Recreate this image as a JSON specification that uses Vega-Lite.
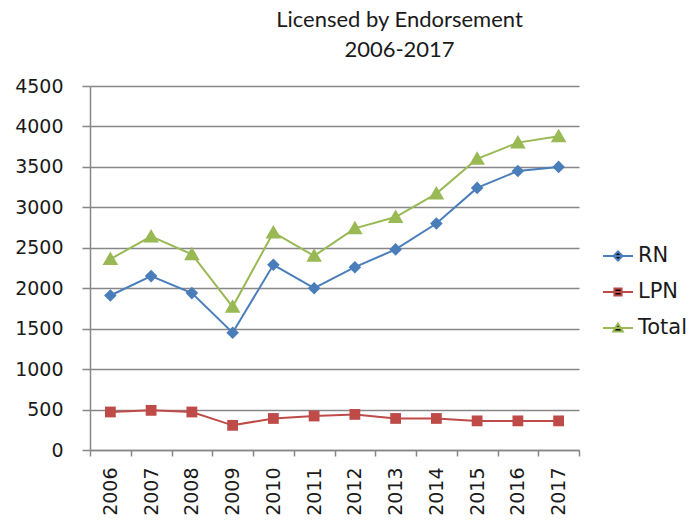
{
  "$schema": "https://vega.github.io/schema/vega-lite/v6.json",
  "autosize": {"type": "none"},
  "padding": {"left": 90, "top": 86, "right": 115, "bottom": 74},
  "width": 489,
  "height": 364,
  "background": "white",
  "title": {
    "text": ["Licensed by Endorsement", "2006-2017"],
    "font": "Lato",
    "fontSize": 22,
    "fontWeight": "normal",
    "color": "#1a1a1a",
    "lineHeight": 30,
    "anchor": "middle",
    "dx": 65,
    "offset": 15
  },
  "data": {
    "values": [
      {"year": "2006", "series": "RN", "value": 1910},
      {"year": "2007", "series": "RN", "value": 2150},
      {"year": "2008", "series": "RN", "value": 1940},
      {"year": "2009", "series": "RN", "value": 1450},
      {"year": "2010", "series": "RN", "value": 2290},
      {"year": "2011", "series": "RN", "value": 2000},
      {"year": "2012", "series": "RN", "value": 2260},
      {"year": "2013", "series": "RN", "value": 2480},
      {"year": "2014", "series": "RN", "value": 2800},
      {"year": "2015", "series": "RN", "value": 3240},
      {"year": "2016", "series": "RN", "value": 3450},
      {"year": "2017", "series": "RN", "value": 3500},
      {"year": "2006", "series": "LPN", "value": 470},
      {"year": "2007", "series": "LPN", "value": 490},
      {"year": "2008", "series": "LPN", "value": 470},
      {"year": "2009", "series": "LPN", "value": 305},
      {"year": "2010", "series": "LPN", "value": 390},
      {"year": "2011", "series": "LPN", "value": 420},
      {"year": "2012", "series": "LPN", "value": 440},
      {"year": "2013", "series": "LPN", "value": 390},
      {"year": "2014", "series": "LPN", "value": 390},
      {"year": "2015", "series": "LPN", "value": 360},
      {"year": "2016", "series": "LPN", "value": 360},
      {"year": "2017", "series": "LPN", "value": 360},
      {"year": "2006", "series": "Total", "value": 2360},
      {"year": "2007", "series": "Total", "value": 2640},
      {"year": "2008", "series": "Total", "value": 2420},
      {"year": "2009", "series": "Total", "value": 1770},
      {"year": "2010", "series": "Total", "value": 2690},
      {"year": "2011", "series": "Total", "value": 2400},
      {"year": "2012", "series": "Total", "value": 2740},
      {"year": "2013", "series": "Total", "value": 2880},
      {"year": "2014", "series": "Total", "value": 3170},
      {"year": "2015", "series": "Total", "value": 3600},
      {"year": "2016", "series": "Total", "value": 3800},
      {"year": "2017", "series": "Total", "value": 3880}
    ]
  },
  "encoding": {
    "x": {
      "field": "year",
      "type": "ordinal",
      "scale": {"paddingInner": 0, "paddingOuter": 0},
      "axis": {
        "title": null,
        "labelAngle": 270,
        "labelFont": "DejaVu Sans",
        "labelFontSize": 19,
        "labelColor": "#1a1a1a",
        "labelPadding": 11,
        "tickBand": "extent",
        "tickSize": 6,
        "tickColor": "#878787",
        "tickWidth": 1.5,
        "domainColor": "#878787",
        "domainWidth": 1.5,
        "grid": false
      }
    },
    "y": {
      "field": "value",
      "type": "quantitative",
      "scale": {"domain": [0, 4500], "nice": false},
      "axis": {
        "title": null,
        "format": "d",
        "values": [0, 500, 1000, 1500, 2000, 2500, 3000, 3500, 4000, 4500],
        "labelFont": "DejaVu Sans",
        "labelFontSize": 19,
        "labelColor": "#1a1a1a",
        "labelPadding": 19,
        "tickSize": 8,
        "tickColor": "#878787",
        "tickWidth": 1.5,
        "domainColor": "#878787",
        "domainWidth": 1.5,
        "gridColor": "#878787",
        "gridWidth": 1.5
      }
    }
  },
  "layer": [
    {
      "mark": {"type": "line", "strokeWidth": 2},
      "encoding": {
        "color": {
          "field": "series",
          "type": "nominal",
          "scale": {"domain": ["RN", "LPN", "Total"], "range": ["#4A7EBB", "#BE4B48", "#98B954"]},
          "legend": null
        }
      }
    },
    {
      "mark": {"type": "point", "filled": true, "opacity": 1, "size": 144},
      "encoding": {
        "color": {"field": "series", "type": "nominal", "legend": null},
        "shape": {
          "field": "series",
          "type": "nominal",
          "scale": {
            "domain": ["RN", "LPN", "Total"],
            "range": [
              "M0,-1.05L1.05,0L0,1.05L-1.05,0Z",
              "M-0.9,-0.9L0.9,-0.9L0.9,0.9L-0.9,0.9Z",
              "M0,-1.25L1.3,1L-1.3,1Z"
            ]
          },
          "legend": null
        }
      }
    },
    {
      "mark": {"type": "point", "filled": true, "size": 900, "opacity": 0},
      "encoding": {
        "color": {
          "field": "series",
          "type": "nominal",
          "legend": {
            "title": null,
            "orient": "none",
            "legendX": 512,
            "legendY": 154,
            "labelFont": "DejaVu Sans",
            "labelFontSize": 21,
            "labelColor": "#1a1a1a",
            "labelOffset": 4,
            "rowPadding": 10,
            "symbolSize": 900,
            "symbolStrokeWidth": 2,
            "symbolOpacity": 1
          }
        },
        "stroke": {
          "field": "series",
          "type": "nominal",
          "scale": {"domain": ["RN", "LPN", "Total"], "range": ["#4A7EBB", "#BE4B48", "#98B954"]},
          "legend": {
            "title": null,
            "orient": "none",
            "legendX": 512,
            "legendY": 154,
            "labelFont": "DejaVu Sans",
            "labelFontSize": 21,
            "labelColor": "#1a1a1a",
            "labelOffset": 4,
            "rowPadding": 10,
            "symbolSize": 900,
            "symbolStrokeWidth": 2,
            "symbolOpacity": 1
          }
        },
        "shape": {
          "field": "series",
          "type": "nominal",
          "scale": {
            "domain": ["RN", "LPN", "Total"],
            "range": [
              "M-1,0L1,0M0,-0.3L0.3,0L0,0.3L-0.3,0Z",
              "M-1,0L1,0M-0.24,-0.24L0.24,-0.24L0.24,0.24L-0.24,0.24Z",
              "M-1,0L1,0M0,-0.3L0.32,0.24L-0.32,0.24Z"
            ]
          },
          "legend": {
            "title": null,
            "orient": "none",
            "legendX": 512,
            "legendY": 154,
            "labelFont": "DejaVu Sans",
            "labelFontSize": 21,
            "labelColor": "#1a1a1a",
            "labelOffset": 4,
            "rowPadding": 10,
            "symbolSize": 900,
            "symbolStrokeWidth": 2,
            "symbolOpacity": 1
          }
        }
      }
    }
  ],
  "resolve": {"scale": {"shape": "independent", "stroke": "independent"}},
  "config": {
    "view": {"stroke": null}
  }
}
